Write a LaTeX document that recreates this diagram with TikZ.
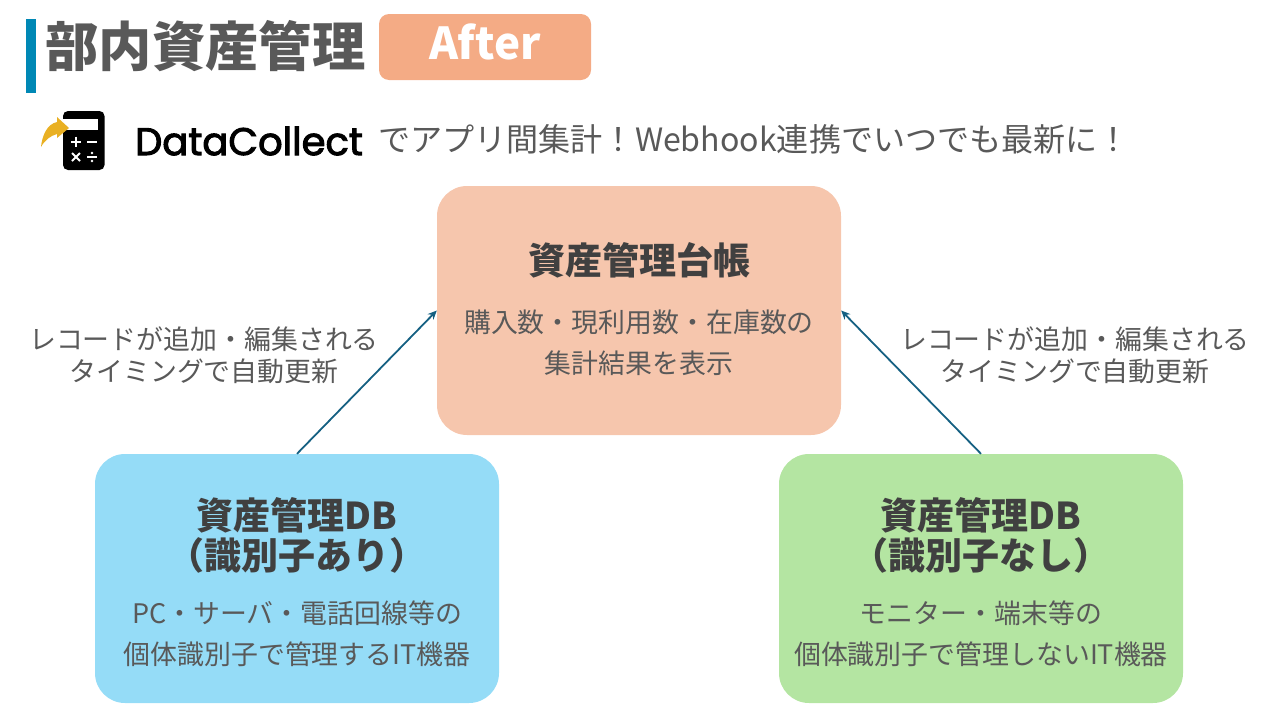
\documentclass[tikz,border=0pt]{standalone}
\usepackage{fontspec}
\usetikzlibrary{arrows.meta}
\setmainfont{Noto Sans CJK JP}
\newfontfamily\logofont[FakeBold=2.5]{Poppins}
\definecolor{barblue}{HTML}{0088B5}
\definecolor{textgray}{HTML}{595959}
\definecolor{titlegray}{HTML}{404040}
\definecolor{afterorange}{HTML}{F4AB85}
\definecolor{ledgerorange}{HTML}{F6C6AD}
\definecolor{dbblue}{HTML}{95DCF7}
\definecolor{dbgreen}{HTML}{B4E5A2}
\definecolor{arrowblue}{HTML}{156082}
\definecolor{arrowyellow}{HTML}{E9B023}
\tikzset{
  card/.style={rounded corners=30pt,minimum width=404pt,minimum height=249pt,inner sep=0pt},
  cardtitle/.style={align=center,text=titlegray,font=\fontsize{37}{40}\selectfont\bfseries},
  cardtext/.style={align=center,text=textgray,font=\fontsize{26.9}{41}\selectfont},
  sidetext/.style={align=center,text=textgray,font=\fontsize{26.9}{32}\selectfont},
  link/.style={draw=arrowblue,line width=1.8pt,-{Stealth[length=9pt,width=8pt]}}
}
\begin{document}
\begin{tikzpicture}[x=1pt,y=-1pt]
\useasboundingbox (0,0) rectangle (1277,718);

% header
\fill[barblue] (26,19) rectangle (36,93);
\node[text=textgray,font=\fontsize{53.3}{60}\selectfont\bfseries,inner sep=0pt] (heading) at (205.5,46) {部内資産管理};
\node[fill=afterorange,rounded corners=10pt,minimum width=212pt,minimum height=66pt,inner sep=0pt,
  text=white,font=\fontsize{44}{50}\selectfont\bfseries] (after) at (485,47) {\raisebox{10pt}{After}};

% icon
\fill[black,rounded corners=5pt] (63,111) rectangle (104.5,170);
\fill[white] (63,119) rectangle (98,130);
\fill[arrowyellow] (69,128) -- (57,117) -- (57,122) .. controls (47,124) and (42,136) .. (41,147)
  .. controls (45,140) and (50,136) .. (57,134) -- (57,138) -- cycle;
\draw[white,line width=2pt] (71,141.5) -- (81,141.5) (76,136.5) -- (76,146.5);
\draw[white,line width=2pt] (87,141.5) -- (97,141.5);
\draw[white,line width=2pt] (72,153) -- (80,161) (80,153) -- (72,161);
\draw[white,line width=1.6pt] (87,157) -- (97,157);
\fill[white] (92,153) circle (1.3) (92,161) circle (1.3);

% subtitle
\node[text=black,font=\logofont\fontsize{38.5}{40}\selectfont,inner sep=0pt] (logo) at (249,141) {DataCollect};
\node[anchor=west,text=textgray,font=\fontsize{32.1}{36}\selectfont,inner sep=0pt] (subtitle) at (378,139) {でアプリ間集計！Webhook連携でいつでも最新に！};

% cards
\node[card,fill=ledgerorange] (ledger) at (639,310.5) {};
\node[card,fill=dbblue] (dbone) at (297,578.5) {};
\node[card,fill=dbgreen] (dbtwo) at (981,578.5) {};

\node[cardtitle] (ledgertitle) at (639,260) {資産管理台帳};
\node[cardtext] (ledgertext) at (639,343) {購入数・現利用数・在庫数の\\集計結果を表示};
\node[cardtitle] (dbonetitle) at (297,535) {資産管理DB\\（識別子あり）};
\node[cardtext] (dbonetext) at (297,634) {PC・サーバ・電話回線等の\\個体識別子で管理するIT機器};
\node[cardtitle] (dbtwotitle) at (981,535) {資産管理DB\\（識別子なし）};
\node[cardtext] (dbtwotext) at (981,634) {モニター・端末等の\\個体識別子で管理しないIT機器};

\node[sidetext] (lefttext) at (204,355) {レコードが追加・編集される\\タイミングで自動更新};
\node[sidetext] (righttext) at (1075,355) {レコードが追加・編集される\\タイミングで自動更新};

\path[link] (dbone.north) -- (ledger.west);
\path[link] (dbtwo.north) -- (ledger.east);
\end{tikzpicture}
\end{document}
